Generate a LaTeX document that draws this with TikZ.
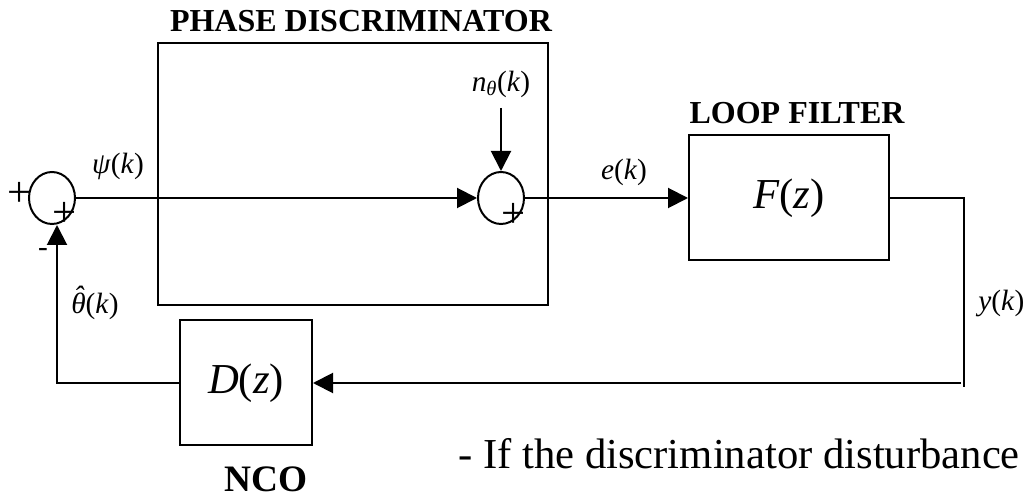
\documentclass[tikz,border=0pt]{standalone}
\usepackage{fontspec}
\setmainfont{Liberation Serif}
\usetikzlibrary{arrows.meta, positioning, shapes.geometric}

\tikzset{
  wire/.style={line width=1.5pt},
  arr/.style={wire, -{Triangle[length=15pt,width=15pt]}},
  blk/.style={draw, line width=1.5pt, inner sep=0pt, font=\fontsize{32}{36}\selectfont},
  sumnode/.style={draw, ellipse, line width=1.5pt, minimum width=34.5pt, minimum height=39pt, inner sep=0pt},
  sig/.style={font=\fontsize{22}{26}\selectfont, inner sep=0pt},
  title/.style={font=\fontsize{24}{28}\selectfont\bfseries, inner sep=0pt},
  sgn/.style={font=\fontsize{32}{36}\selectfont, inner sep=0pt}
}

\begin{document}
\begin{tikzpicture}[x=0.75pt, y=-0.75pt]
        \useasboundingbox (0,0) rectangle (1025,498);

        % phase discriminator frame and its title
        \node[draw, line width=1.5pt, minimum width=292.5pt, minimum height=196.5pt] (pdbox) at (353,174) {};
        \node[title] (pdlabel) at (361,21) {PHASE DISCRIMINATOR};

        % summing points with their signs
        \node[sumnode] (sum1) at (52,198) {};
        \node[sumnode] (sum2) at (501,198) {};
        \node[sgn] (plusa) at (20,194) {+};
        \node[sgn] (plusb) at (65,214) {+};
        \node[sgn] (plusc) at (514,215) {+};
        \node[sig] (minus) at (43,253) {-};

        % loop filter and NCO
        \node[blk, minimum width=150pt, minimum height=93.75pt] (fz) at (789,198) {\textit{F}(\textit{z})};
        \node[title] (lflabel) at (797,113) {LOOP FILTER};
        \node[blk, minimum width=99pt, minimum height=93.75pt] (dz) at (246,383) {\textit{D}(\textit{z})};
        \node[title, font=\fontsize{28}{32}\selectfont\bfseries] (ncolabel) at (266,479) {NCO};

        % free ends of the wires
        \coordinate (nin) at (501,108);
        \coordinate (rc) at (964,387);
        \coordinate (rb) at (961,383);

        % wires
        \draw[arr] (sum1.east) -- (sum2.west);
        \draw[arr] (nin) -- (sum2.north);
        \draw[arr] (sum2.east) -- (fz.west);
        \draw[wire] (fz.east) -| (rc);
        \draw[arr] (rb) -- (dz.east);
        \draw[arr] (dz.west) -| ([xshift=3.75pt]sum1.south);

        % signal names
        \node[sig] (psi) at (118,166) {\textit{ψ}(\textit{k})};
        \node[sig] (noise) at (501,84) {\textit{n}\textsubscript{\textit{θ}}(\textit{k})};
        \node[sig] (err) at (624,172) {\textit{e}(\textit{k})};
        \node[sig] (thhat) at (95,306) {\textit{\ooalign{θ\cr\hidewidth\raisebox{0.24em}{ˆ}\hidewidth\cr}}(\textit{k})};
        \node[sig, anchor=west] (yk) at (978,303) {\textit{y}(\textit{k})};

        % text below the loop
        \node[font=\fontsize{32}{36}\selectfont, anchor=base west, inner sep=0pt] (note) at (458,469) {- If the discriminator disturbance};
    \end{tikzpicture}
\end{document}
